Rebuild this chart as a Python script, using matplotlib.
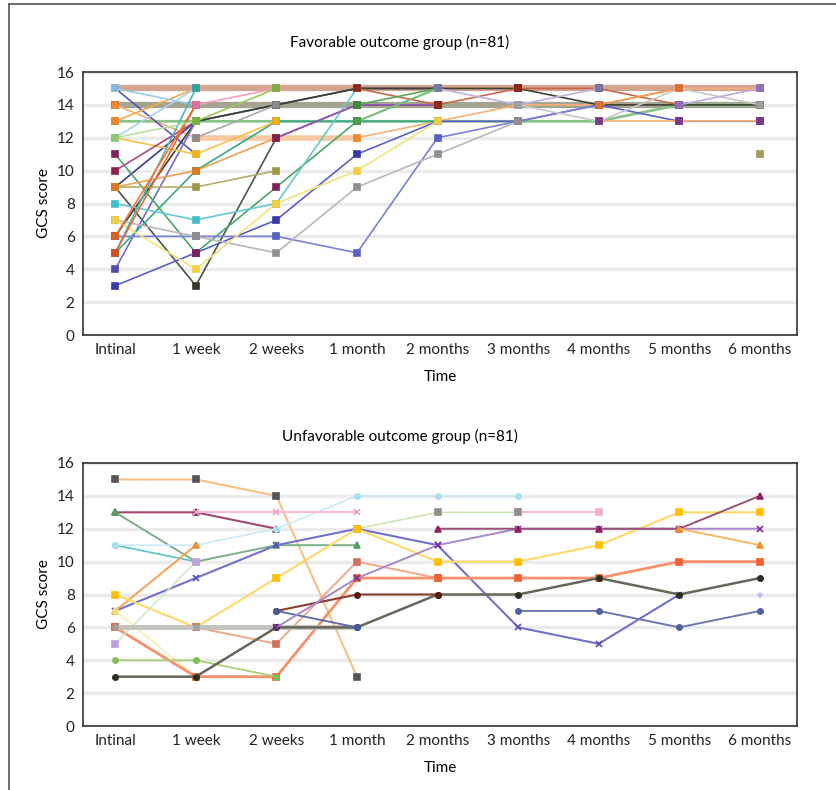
import matplotlib
matplotlib.use("Agg")
import matplotlib.pyplot as plt
import numpy as np
from matplotlib.lines import Line2D

plt.rcParams['font.family'] = ['Lato', 'DejaVu Sans']

n = np.nan
times = ['Intinal', '1 week', '2 weeks', '1 month', '2 months', '3 months',
         '4 months', '5 months', '6 months']

# favorable outcome group, GCS per time point (nan = no value)
fav_scores = [
    [15, 15, 15, 15, 15, 15, 15, 15, 15],
    [14, 14, 14, 14, 14, 14, 14, 14, 14],
    [13, 13, 13, 13, 13, 13, 13, 14, 14],
    [n, 12, 12, 12, n, n, n, n, n],
    [14, 12, n, 12, 13, 14, 14, 15, 15],
    [15, 11, n, n, n, n, n, n, n],
    [9, 13, 14, 15, 15, n, n, n, n],
    [9, 3, 12, 14, 14, n, n, n, n],
    [6, 13, 14, 15, 15, 15, 14, 14, 14],
    [3, 5, 7, 11, 13, 13, 14, 13, 13],
    [4, 13, n, n, n, n, n, n, n],
    [5, 10, 13, 13, 13, n, n, n, n],
    [11, 5, 9, 13, 15, n, n, n, n],
    [8, 7, 8, 15, n, n, n, n, n],
    [6, 6, 6, 5, 12, 13, 14, n, n],
    [7, 6, 5, 9, 11, 13, n, n, n],
    [7, 4, 8, 10, 13, n, n, n, n],
    [9, 9, 10, n, n, n, n, n, n],
    [9, 10, 12, n, n, n, n, n, n],
    [12, 11, 13, n, n, n, n, n, n],
    [10, 13, n, n, n, n, n, n, n],
    [13, 15, n, n, n, n, n, n, n],
    [15, 14, n, n, n, n, n, n, n],
    [12, 15, n, n, n, n, n, n, n],
    [5, 15, n, n, n, n, n, n, n],
    [6, 14, n, n, n, n, n, n, n],
    [5, 14, n, n, n, n, n, n, n],
    [12, 13, n, n, n, n, n, n, n],
    [n, 12, 14, n, n, n, n, n, n],
    [n, 14, 15, n, n, n, n, n, n],
    [n, 13, 15, n, n, n, n, n, n],
    [n, n, 12, 14, 14, n, n, n, n],
    [n, n, n, 15, 14, 15, 15, 14, n],
    [n, n, n, 14, 15, n, n, n, n],
    [n, n, n, 13, 15, n, n, n, n],
    [n, n, n, n, 15, 14, 15, n, n],
    [n, n, n, n, n, 14, 13, 15, 14],
    [n, n, n, n, n, n, 13, 13, 13],
    [n, n, n, n, n, n, 14, 15, n],
    [n, n, n, n, n, n, n, 14, 15],
    [n, n, n, n, n, n, n, n, 11],
]
fav_line = ['#d4a490', '#a4a490', '#88c488', '#f8c8a0', '#f4b078', '#5858b8',
            '#3a3a98', '#4e5444', '#3c4232', '#5a60c8', '#7a68c8', '#38a888',
            '#48a868', '#68c8d0', '#7a80d8', '#b8b8b8', '#f4e27a', '#b4ac68',
            '#f0a050', '#f8c048', '#b04880', '#f4a850', '#98cce8', '#a8d4f0',
            '#48b8b8', '#f07838', '#e86838', '#b8e0a0', '#a8a8a8', '#f49cbc',
            '#98c858', '#9858b8', '#c86848', '#58a858', '#78c078', '#c0b0e0',
            '#c8c8c8', '#f8b070', '#f09858', '#c0a8e0', '#b0a860']
fav_mark = ['#a8302a', '#1e2a14', '#b0b038', '#f0a060', '#f08830', '#f0c040',
            '#20206a', '#303828', '#101810', '#3838a8', '#5050a8', '#208070',
            '#802060', '#40c0c8', '#5860c0', '#909090', '#f0d040', '#a09848',
            '#e07820', '#f0b020', '#902050', '#e88830', '#80b8e0', '#88c0e8',
            '#30a0a0', '#e06020', '#d05020', '#90c870', '#8c8c8c', '#e070a0',
            '#78b040', '#802050', '#902818', '#409040', '#50a050', '#7878a8',
            '#a0a0a0', '#7a3a8a', '#e07030', '#9070c0', '#a09850']
fav_width = [4.5, 4.5, 2, 4] + [1.2] * 37

# unfavorable outcome group
unf_scores = [
    [15, 15, 14, 3, n, n, n, n, n],
    [13, 13, 12, n, n, n, n, n, n],
    [13, 10, 11, 11, n, n, n, n, n],
    [11, 10, n, n, n, n, n, n, n],
    [11, 11, 12, 14, 14, 14, n, n, n],
    [n, 13, 13, 13, n, n, n, n, n],
    [n, n, n, n, n, 13, 13, n, n],
    [n, n, n, 12, 13, 13, n, n, n],
    [7, 9, 11, 12, 11, 6, 5, 8, n],
    [7, 11, n, n, n, n, n, n, n],
    [8, 6, 9, 12, 10, 10, 11, 13, 13],
    [7, 3, n, n, n, n, n, n, n],
    [6, 6, 5, 10, 9, n, n, n, n],
    [6, 3, 3, 9, 9, 9, 9, 10, 10],
    [4, 4, 3, n, n, n, n, n, n],
    [5, 10, n, n, n, n, n, n, n],
    [6, 6, 6, 6, n, n, n, n, n],
    [3, 3, 6, 6, 8, 8, 9, 8, 9],
    [n, n, 7, 8, 8, n, n, n, n],
    [n, n, 7, 6, n, n, n, n, n],
    [n, n, n, n, n, 7, 7, 6, 7],
    [n, n, 6, 9, 11, 12, 12, 12, 12],
    [n, n, n, n, 12, 12, 12, 12, 14],
    [n, n, n, n, n, n, n, 12, 11],
    [n, n, n, n, n, n, n, n, 8],
]
unf_line = ['#f8c080', '#a04870', '#78b088', '#58c4c4', '#cce8f6', '#f8b8d4',
            '#f8b8d4', '#c8e4b0', '#7070d0', '#f8a050', '#ffd868', '#f8f0a8',
            '#f0a888', '#f8906a', '#a8d078', '#cce8c0', '#c4c4bc', '#66665a',
            '#8a3a30', '#5868a8', '#6a78b0', '#a888cc', '#985078', '#f8b860',
            '#a0a8f0']
unf_mark = ['#555555', '#902050', '#50a060', '#40b0b0', '#a8e0f0', '#f0a0c0',
            '#f0b0c8', '#909090', '#5050b8', '#f09030', '#ffc000', '#f0e080',
            '#d07060', '#f06030', '#80c050', '#c0a0e0', '#a0a0a0', '#2a3020',
            '#5a1a10', '#4a5898', '#5060a0', '#7a3090', '#902060', '#f09030',
            '#b0b8f0']
unf_shape = ['s', '^', '^', 'o', 'o', 'x', 's', 's', 'x', '^', 's', 'o',
             's', 's', 'o', 's', 'o', 'o', 'o', 'o', 'o', 'x', '^', '^', '+']
unf_width = [1.5, 1.5, 1.4, 1.2, 1.2, 1.4, 1.4, 1.1, 1.5, 1.4, 1.5, 1.2,
             1.4, 2.0, 1.3, 1.1, 3.5, 1.8, 1.5, 1.3, 1.4, 1.4, 1.4, 1.4, 1.1]


def draw_panel(ax, scores, lcols, mcols, widths, shapes, title, title_y):
    x = np.arange(len(times))
    for i, s in enumerate(scores):
        y = np.array(s, dtype=float)
        ax.plot(x, y, color=lcols[i], lw=widths[i], marker=shapes[i],
                ms=3.8, mfc=mcols[i], mec=mcols[i], mew=1.2, zorder=3)
    ax.set_xlim(-0.4, 8.46)
    ax.set_ylim(0, 16)
    ax.set_yticks(range(0, 17, 2))
    ax.set_xticks(x)
    ax.set_xticklabels(times)
    ax.tick_params(length=0, labelsize=11, pad=6, colors='#222222')
    ax.grid(axis='y', color='#ebebeb', lw=2.5, zorder=0)
    for sp in ax.spines.values():
        sp.set_color('#333333')
        sp.set_linewidth(1.2)
    ax.set_xlabel('Time', fontsize=11, labelpad=9)
    ax.set_ylabel('GCS score', fontsize=11, labelpad=4)
    fig.text(0.478, title_y, title, fontsize=11, ha='center', va='center')


fig = plt.figure(figsize=(8.37, 7.9), dpi=100)
W, H = 837.0, 790.0
ax1 = fig.add_axes([83 / W, 1 - 335 / H, 714 / W, 263 / H])
ax2 = fig.add_axes([83 / W, 1 - 726 / H, 714 / W, 263 / H])

draw_panel(ax1, fav_scores, fav_line, fav_mark, fav_width, ['s'] * len(fav_scores),
           'Favorable outcome group (n=81)', 1 - 42 / H)
draw_panel(ax2, unf_scores, unf_line, unf_mark, unf_width, unf_shape,
           'Unfavorable outcome group (n=81)', 1 - 436 / H)

# outer frame (top and left edges only)
fig.add_artist(Line2D([9 / W, 1], [1 - 4 / H, 1 - 4 / H], color='#555555', lw=1.2))
fig.add_artist(Line2D([9 / W, 9 / W], [0, 1 - 4 / H], color='#555555', lw=1.2))

fig.savefig('out.png', dpi=100)
